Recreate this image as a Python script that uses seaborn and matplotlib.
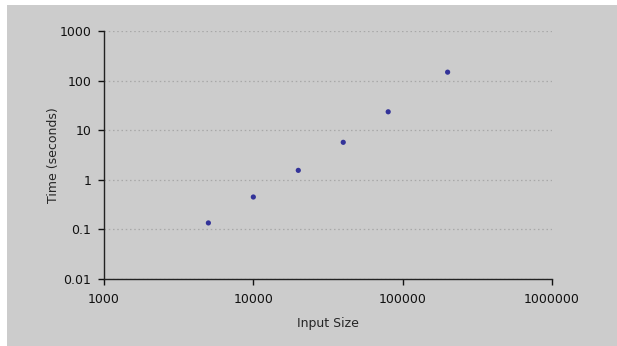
import matplotlib
matplotlib.use("Agg")
import matplotlib.pyplot as plt
from matplotlib.patches import Rectangle
import seaborn as sns
import pandas as pd

# Timing results
input_size = [5000, 10000, 20000, 40000, 80000, 200000]
time_seconds = [0.135, 0.45, 1.55, 5.7, 23.5, 148]

x_ticks = [1000, 10000, 100000, 1000000]
y_ticks = [0.01, 0.1, 1, 10, 100, 1000]
x_tick_labels = ["1000", "10000", "100000", "1000000"]
y_tick_labels = ["0.01", "0.1", "1", "10", "100", "1000"]

df = pd.DataFrame({"size": input_size, "time": time_seconds})

sns.set_style("ticks")
plt.rcParams['font.family'] = ['DejaVu Sans']

fig = plt.figure(figsize=(6.17, 3.46), dpi=100)
fig.patch.set_facecolor("white")
# grey chart area, white strip on top and left
bg = Rectangle((7 / 617, 0), 1 - 7 / 617, 1 - 5 / 346,
               transform=fig.transFigure, facecolor="#cccccc",
               edgecolor="none", zorder=-10)
fig.add_artist(bg)

ax = fig.add_axes([104 / 617, 1 - 279 / 346, 448 / 617, 248 / 346])
ax.set_facecolor("#cccccc")

sns.scatterplot(data=df, x="size", y="time", ax=ax, color="#333399",
                s=14, edgecolor="none", zorder=3)

ax.set_xscale("log")
ax.set_yscale("log")
ax.set_xlim(1000, 1000000)
ax.set_ylim(0.01, 1000)
ax.set_xticks(x_ticks)
ax.set_xticklabels(x_tick_labels)
ax.set_yticks(y_ticks)
ax.set_yticklabels(y_tick_labels)
ax.minorticks_off()

ax.yaxis.grid(True, linestyle=(0, (1.2, 2.2)), color="#a8a8a8", linewidth=0.9)
ax.xaxis.grid(False)

for side in ["top", "right"]:
    ax.spines[side].set_visible(False)
for side in ["left", "bottom"]:
    ax.spines[side].set_color("#222222")
    ax.spines[side].set_linewidth(1.0)

ax.tick_params(axis="x", length=4, width=1, pad=6, labelsize=9, colors="#111111")
ax.tick_params(axis="y", length=4, width=1, pad=5, labelsize=9, colors="#111111")

ax.set_xlabel("Input Size", fontsize=9, labelpad=8)
ax.set_ylabel("Time (seconds)", fontsize=9, labelpad=0)

fig.savefig("out.png", dpi=100)
